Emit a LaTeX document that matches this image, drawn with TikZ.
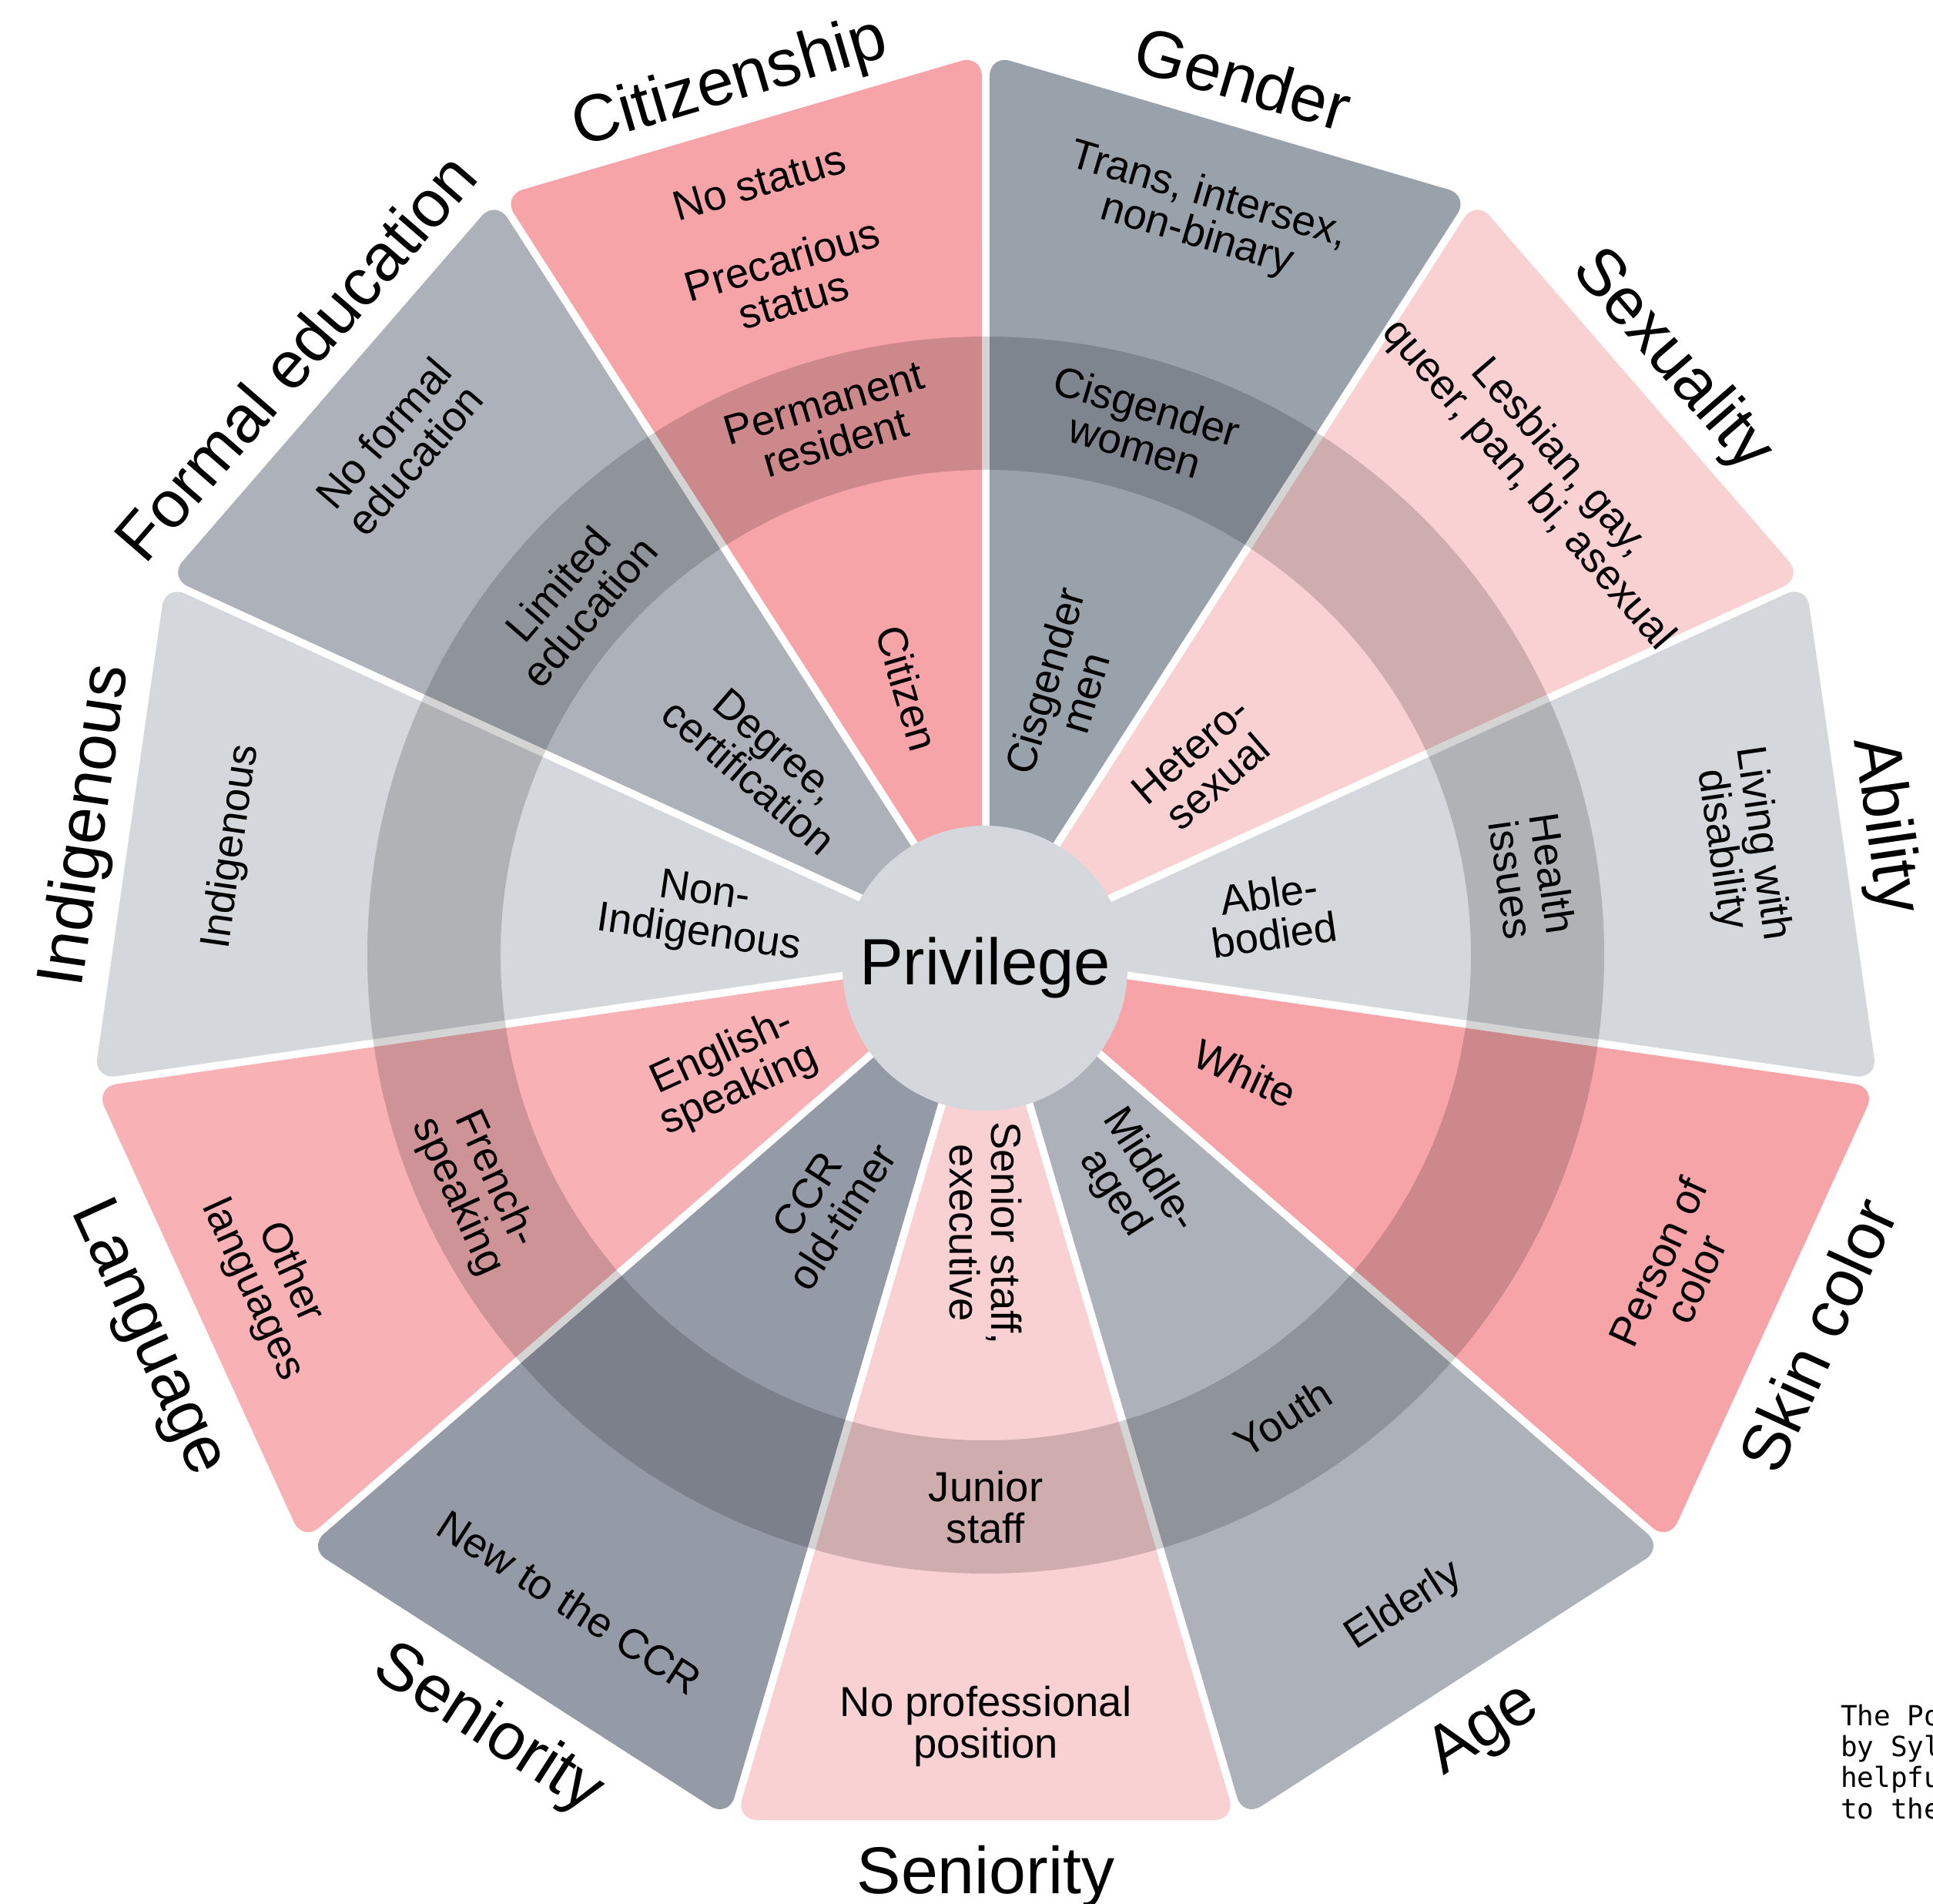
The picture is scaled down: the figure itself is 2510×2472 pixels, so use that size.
\documentclass[tikz,border=0pt]{standalone}
\usepackage{fontspec}
\setmainfont{Liberation Sans}
\newfontfamily\monofont{DejaVu Sans Mono}
\definecolor{cpink}{HTML}{F7A4A9}
\definecolor{cpinkl}{HTML}{F9D1D3}
\definecolor{cpinkm}{HTML}{F8B1B5}
\definecolor{cgraya}{HTML}{99A1AB}
\definecolor{cgrayb}{HTML}{ADB2BA}
\definecolor{cgrayc}{HTML}{D4D7DC}
\definecolor{cgrayd}{HTML}{959BA6}
\tikzset{
  inlab/.style={font=\fontsize{54.5}{54}\selectfont, align=center, inner sep=0pt},
  catlab/.style={font=\fontsize{86}{86}\selectfont, inner sep=0pt, text height=62pt, text depth=0pt},
  monolab/.style={font=\monofont\fontsize{36}{40}\selectfont, inner sep=0pt, anchor=base west},
  wedge/.style={rounded corners=28}
}
\begin{document}
\begin{tikzpicture}[x=1pt,y=1pt]
\useasboundingbox (-1280,-1232) rectangle (1230,1240);
\fill[white] (-1280,-1232) rectangle (1230,1240);
% wedges
\foreach \ang/\col in {-90/cpinkl, -57.2727/cgrayb, -24.5455/cpink, 8.1818/cgrayc, 40.9091/cpinkl, 73.6364/cgraya, 106.3636/cpink, 139.0909/cgrayb, 171.8182/cgrayc, 204.5455/cpinkm, 237.2727/cgrayd}{
  \fill[\col, wedge, rotate=\ang] (17.75,0) -- (1123,-324.5) -- (1123,324.5) -- cycle;
}
% translucent ring
\fill[black, opacity=0.17, even odd rule] (0,0) circle (803) (0,0) circle (630);
% centre
\fill[cgrayc] (-1,-17) circle (185);
\node[font=\fontsize{85}{85}\selectfont, inner sep=0pt] (priv) at (-1,-17) {Privilege};

% Citizenship
\node[inlab, rotate=16.36] (c1) at (106.36:1045) {No status};
\node[inlab, rotate=16.36] (c2) at (106.36:914) {Precarious\\status};
\node[inlab, rotate=16.36] (c3) at (106.36:720) {Permanent\\resident};
\node[inlab, rotate=-73.64] (c4) at (106.36:361) {Citizen};
% Gender
\node[inlab, rotate=-16.36] (g1) at (73.64:1000) {Trans, intersex,\\non-binary};
\node[inlab, rotate=-16.36] (g2) at (73.64:716) {Cisgender\\women};
\node[inlab, rotate=73.64] (g3) at (73.64:363) {Cisgender\\men};
% Sexuality
\node[inlab, rotate=-49.09] (s1) at (40.91:958) {Lesbian, gay,\\queer, pan, bi, asexual};
\node[inlab, rotate=40.91] (s2) at (40.91:375) {Hetero-\\sexual};
% Ability
\node[inlab, rotate=-81.82] (a1) at (8.18:991) {Living with\\disability};
\node[inlab, rotate=-81.82] (a2) at (8.18:717) {Health\\issues};
\node[inlab, rotate=8.18] (a3) at (8.18:375) {Able-\\bodied};
% Skin color
\node[inlab, rotate=-24.55] (k1) at (-24.55:370) {White};
\node[inlab, rotate=65.45] (k2) at (-24.55:986) {Person of\\color};
% Age
\node[inlab, rotate=-57.27] (e1) at (-57.27:350) {Middle-\\aged};
\node[inlab, rotate=32.73] (e2) at (-57.27:714) {Youth};
\node[inlab, rotate=32.73] (e3) at (-57.27:1005) {Elderly};
% Seniority bottom
\node[inlab, rotate=-90] (b1) at (-90:361) {Senior staff,\\executive};
\node[inlab] (b2) at (-90:717) {Junior\\staff};
\node[inlab] (b3) at (-90:1001) {No professional\\position};
% Seniority left
\node[inlab, rotate=57.27] (l1) at (237.27:387) {CCR\\old-timer};
\node[inlab, rotate=-32.73] (l2) at (237.27:999) {New to the CCR};
% Language
\node[inlab, rotate=24.55] (n1) at (204.55:364) {English-\\speaking};
\node[inlab, rotate=-65.45] (n2) at (204.55:728) {French-\\speaking};
\node[inlab, rotate=-65.45] (n3) at (204.55:1020) {Other\\languages};
% Indigenous
\node[inlab, rotate=-8.18] (i1) at (171.82:373) {Non-\\Indigenous};
\node[inlab, rotate=81.82] (i2) at (171.82:989) {Indigenous};
% Formal education
\node[inlab, rotate=-40.91] (f1) at (139.09:384) {Degree,\\certification};
\node[inlab, rotate=49.09] (f2) at (139.09:708) {Limited\\education};
\node[inlab, rotate=49.09] (f3) at (139.09:1008) {No formal\\education};

% category labels
\node[catlab, rotate=16.36] (C1) at (106.36:1187) {Citizenship};
\node[catlab, rotate=-16.36] (C2) at (73.64:1187) {Gender};
\node[catlab, rotate=-49.09] (C3) at (40.91:1187) {Sexuality};
\node[catlab, rotate=-81.82] (C4) at (8.18:1187) {Ability};
\node[catlab, rotate=65.45] (C5) at (-24.55:1187) {Skin color};
\node[catlab, rotate=32.73] (C6) at (-57.27:1187) {Age};
\node[catlab] (C7) at (-90:1187) {Seniority};
\node[catlab, rotate=-32.73] (C8) at (237.27:1187) {Seniority};
\node[catlab, rotate=-65.45] (C9) at (204.55:1187) {Language};
\node[catlab, rotate=81.82] (C10) at (171.82:1187) {Indigenous};
\node[catlab, rotate=49.09] (C11) at (139.09:1187) {Formal education};

% credit text (cut by the page edge)
\node[monolab] (m1) at (1110,-1000) {The Po};
\node[monolab] (m2) at (1110,-1040) {by Syl};
\node[monolab] (m3) at (1110,-1080) {helpfu};
\node[monolab] (m4) at (1110,-1121) {to the};
\end{tikzpicture}
\end{document}
